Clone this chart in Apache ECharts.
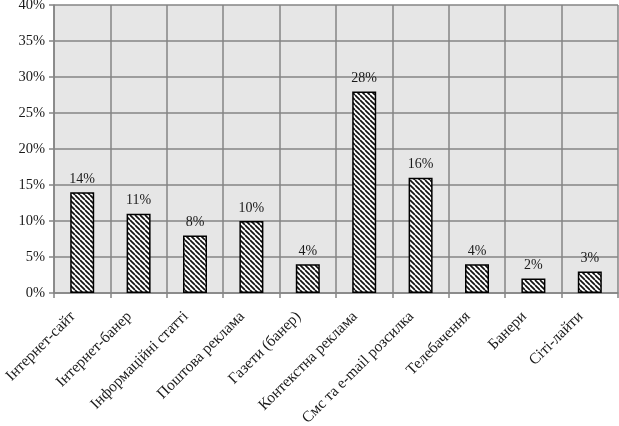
<!DOCTYPE html>
<html>
<head>
<meta charset="utf-8">
<script src="https://cdn.jsdelivr.net/npm/echarts@6/dist/echarts.min.js"></script>
<style>
  html, body { margin: 0; padding: 0; background: #fff; }
  #chart { width: 619px; height: 426px; }
</style>
</head>
<body>
<div id="chart"></div>
<script>
const categories = [
    'Інтернет-сайт', 'Інтернет-банер', 'Інформаційні статті', 'Поштова реклама',
    'Газети (банер)', 'Контекстна реклама', 'Смс та e-mail розсилка',
    'Телебачення', 'Банери', 'Сіті-лайти'
]
const shares = [14, 11, 8, 10, 4, 28, 16, 4, 2, 3]
const yTicks = [0, 5, 10, 15, 20, 25, 30, 35, 40]

// diagonal hatch, like the old office fill
function hatch () {
    const s = 5
    const c = document.createElement('canvas')
    c.width = s
    c.height = s
    const ctx = c.getContext('2d')
    ctx.fillStyle = '#fff'
    ctx.fillRect(0, 0, s, s)
    ctx.strokeStyle = '#111'
    ctx.lineWidth = 1.7
    for (let k = -s; k <= s; k += s) {
        ctx.beginPath()
        ctx.moveTo(k, 0)
        ctx.lineTo(k + s, s)
        ctx.stroke()
    }
    return c
}

const font = '"Liberation Serif", "Times New Roman", serif'
const chart = echarts.init(document.getElementById('chart'))

chart.setOption({
    animation: false,
    textStyle: { fontFamily: font },
    grid: {
        left: 54, right: 1, top: 5, bottom: 133,
        outerBoundsMode: 'none',
        backgroundColor: '#e6e6e6', show: true, borderWidth: 0
    },
    xAxis: {
        type: 'category',
        data: categories,
        axisLine: { lineStyle: { color: '#858585', width: 1.5 } },
        axisTick: { show: true, length: 5, lineStyle: { color: '#858585', width: 1.5 } },
        splitLine: { show: true, lineStyle: { color: '#858585', width: 1.5 } },
        axisLabel: {
            rotate: 45,
            interval: 0,
            margin: 12,
            padding: [0, 13, 0, 0],
            fontSize: 15.5,
            color: '#1a1a1a',
            fontFamily: font
        }
    },
    yAxis: {
        type: 'value',
        min: yTicks[0],
        max: yTicks[yTicks.length - 1],
        interval: 5,
        axisLine: { show: true, lineStyle: { color: '#858585', width: 1.5 } },
        axisTick: { show: true, length: 5, lineStyle: { color: '#858585', width: 1.5 } },
        splitLine: { lineStyle: { color: '#858585', width: 1.5 } },
        axisLabel: {
            formatter: v => v + '%',
            fontSize: 14.5,
            margin: 9,
            color: '#1a1a1a',
            fontFamily: font
        }
    },
    series: [{
        type: 'bar',
        data: shares,
        barWidth: 24,
        itemStyle: {
            color: { image: hatch(), repeat: 'repeat' },
            borderColor: '#000',
            borderWidth: 1.5
        },
        label: {
            show: true,
            position: 'top',
            distance: 6,
            formatter: p => p.value + '%',
            fontSize: 14,
            color: '#1a1a1a',
            fontFamily: font
        }
    }]
})
</script>
</body>
</html>
